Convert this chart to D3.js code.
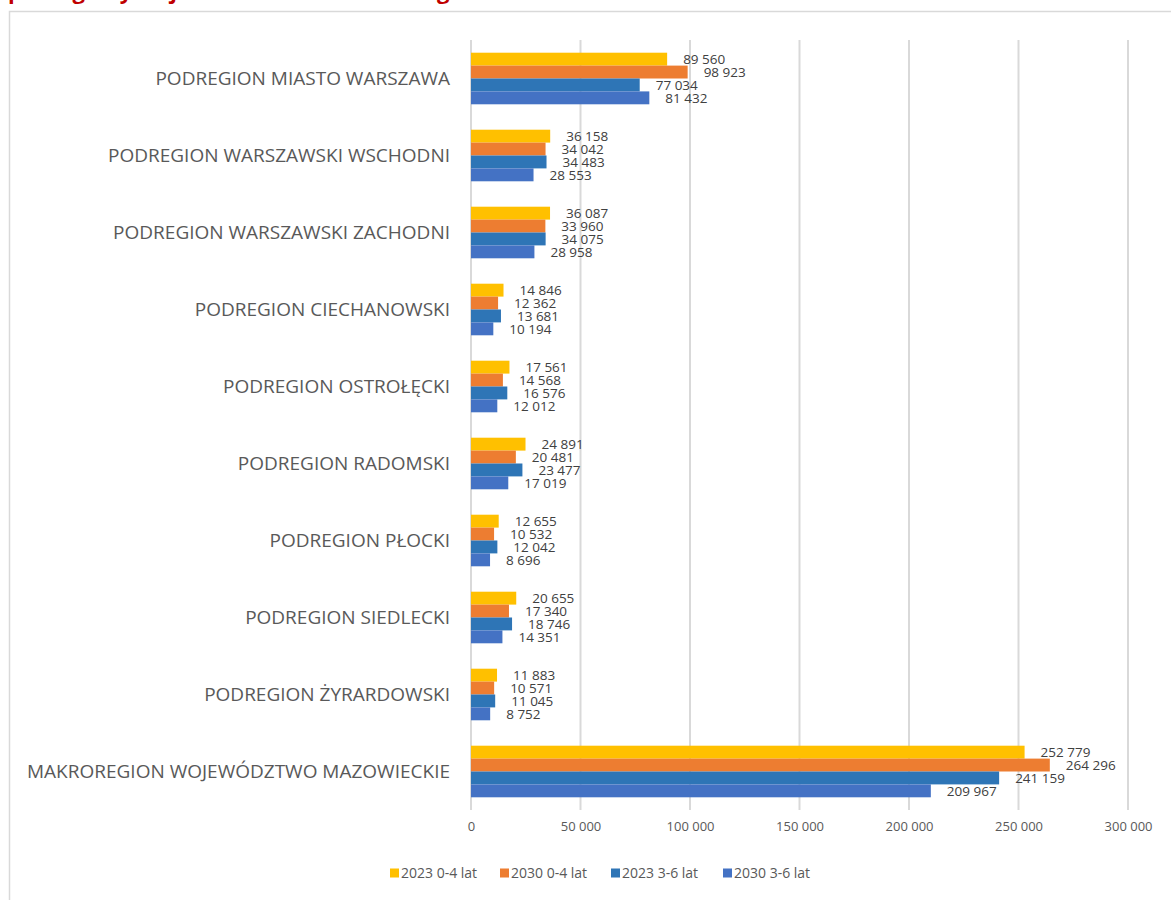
<!DOCTYPE html>
<html>
<head>
<meta charset="utf-8">
<script src="https://cdn.jsdelivr.net/npm/d3@7"></script>
<style>
  body { margin: 0; background: #fff; overflow: hidden; }
  svg { display: block; }
</style>
</head>
<body>
<div id="chart"></div>
<script>
const width = 1171;
const height = 900;

// data
const regions = [
  "PODREGION MIASTO WARSZAWA",
  "PODREGION WARSZAWSKI WSCHODNI",
  "PODREGION WARSZAWSKI ZACHODNI",
  "PODREGION CIECHANOWSKI",
  "PODREGION OSTROŁĘCKI",
  "PODREGION RADOMSKI",
  "PODREGION PŁOCKI",
  "PODREGION SIEDLECKI",
  "PODREGION ŻYRARDOWSKI",
  "MAKROREGION WOJEWÓDZTWO MAZOWIECKIE"
];
const seriesNames = ["2023 0-4 lat", "2030 0-4 lat", "2023 3-6 lat", "2030 3-6 lat"];
const v2023_04 = [89560, 36158, 36087, 14846, 17561, 24891, 12655, 20655, 11883, 252779];
const v2030_04 = [98923, 34042, 33960, 12362, 14568, 20481, 10532, 17340, 10571, 264296];
const v2023_36 = [77034, 34483, 34075, 13681, 16576, 23477, 12042, 18746, 11045, 241159];
const v2030_36 = [81432, 28553, 28958, 10194, 12012, 17019, 8696, 14351, 8752, 209967];
const xTicks = [0, 50000, 100000, 150000, 200000, 250000, 300000];
const colors = ["#FFC000", "#ED7D31", "#2E75B6", "#4472C4"];

const allSeries = [v2023_04, v2030_04, v2023_36, v2030_36];

const fmt = v => d3.format(",")(v).replace(/,/g, " ");
const font = "'Open Sans', 'Noto Sans', sans-serif";

const svg = d3.select("#chart").append("svg")
  .attr("width", width)
  .attr("height", height)
  .style("font-family", font);

// cut-off title line from the page above, only descenders show
svg.append("text")
  .attr("x", 8)
  .attr("y", -1)
  .attr("fill", "#C00000")
  .attr("font-weight", "bold")
  .attr("font-size", 22)
  .text("podregiony województwa mazowieckiego");

// chart frame
svg.append("rect")
  .attr("x", 9.5).attr("y", 11.5)
  .attr("width", 1300).attr("height", 1000)
  .attr("fill", "#fff")
  .attr("stroke", "#d9d9d9")
  .attr("stroke-width", 1.5);

const x = d3.scaleLinear().domain([0, 300000]).range([471, 1128]);
const y = d3.scaleBand().domain(regions).range([40, 810]).paddingInner(0.33).paddingOuter(0.165);
const ySub = d3.scaleBand().domain(d3.range(4)).range([0, y.bandwidth()]);

// gridlines
svg.append("g")
  .selectAll("line")
  .data(xTicks)
  .join("line")
    .attr("x1", d => x(d)).attr("x2", d => x(d))
    .attr("y1", 40).attr("y2", 810)
    .attr("stroke", "#d9d9d9")
    .attr("stroke-width", 2);

// x axis labels
const xAxis = d3.axisBottom(x).tickValues(xTicks).tickFormat(fmt).tickSize(0).tickPadding(0);
const gx = svg.append("g").attr("transform", "translate(0,822)").call(xAxis);
gx.select(".domain").remove();
gx.selectAll("text")
  .attr("dy", "0.71em")
  .attr("font-size", 13)
  .attr("font-family", font)
  .attr("fill", "#595959");

// category labels
const yAxis = d3.axisLeft(y).tickSize(0).tickPadding(0);
const gy = svg.append("g").attr("transform", "translate(450,0)").call(yAxis);
gy.select(".domain").remove();
gy.selectAll("text")
  .attr("font-size", 19)
  .attr("font-family", font)
  .attr("fill", "#595959");

// bars
const groups = svg.append("g")
  .selectAll("g")
  .data(regions)
  .join("g")
    .attr("transform", d => `translate(0,${y(d)})`);

groups.selectAll("rect")
  .data((d, i) => allSeries.map((s, k) => ({k, v: s[i]})))
  .join("rect")
    .attr("x", x(0))
    .attr("y", d => ySub(d.k))
    .attr("width", d => x(d.v) - x(0))
    .attr("height", ySub.bandwidth())
    .attr("fill", d => colors[d.k]);

groups.selectAll("text")
  .data((d, i) => allSeries.map((s, k) => ({k, v: s[i]})))
  .join("text")
    .attr("x", d => x(d.v) + 16)
    .attr("y", d => ySub(d.k) + ySub.bandwidth() / 2)
    .attr("dy", "0.35em")
    .attr("font-size", 13.5)
    .attr("fill", "#404040")
    .text(d => fmt(d.v));

// legend
const legendX = [390, 500, 611, 723];
const legend = svg.append("g")
  .selectAll("g")
  .data(seriesNames)
  .join("g")
    .attr("transform", (d, i) => `translate(${legendX[i]},873)`);
legend.append("rect")
  .attr("x", 0).attr("y", -4.5)
  .attr("width", 9).attr("height", 9)
  .attr("fill", (d, i) => colors[i]);
legend.append("text")
  .attr("x", 11)
  .attr("dy", "0.35em")
  .attr("font-size", 14)
  .attr("fill", "#595959")
  .text(d => d);
</script>
</body>
</html>
